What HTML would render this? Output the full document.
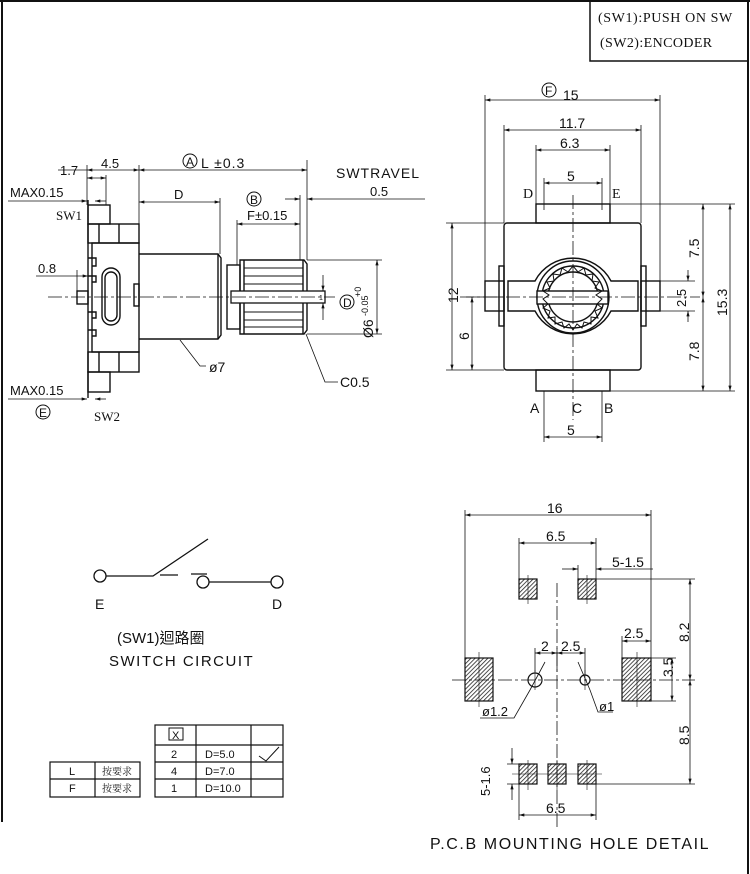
<!DOCTYPE html>
<html><head><meta charset="utf-8"><style>
html,body{margin:0;padding:0;background:#fff}
svg{display:block}
text{font-family:"Liberation Sans","Noto Sans CJK TC",sans-serif;fill:#111}
.s{font-family:"Liberation Serif","Noto Serif CJK SC",serif}
</style></head><body>
<svg width="750" height="874" viewBox="0 0 750 874" xmlns="http://www.w3.org/2000/svg">
<defs>
<marker id="a" viewBox="0 0 10 6" refX="10" refY="3" markerWidth="8" markerHeight="4" orient="auto-start-reverse"><path d="M0,0L10,3L0,6z" fill="#111"/></marker>
<pattern id="h" width="3" height="3" patternUnits="userSpaceOnUse" patternTransform="rotate(45)"><rect width="3" height="3" fill="#fff"/><line x1="0" y1="0" x2="0" y2="3" stroke="#222" stroke-width="1.6"/></pattern>
</defs>
<g fill="none" stroke="#111" stroke-width="1">
<line x1="2" y1="0" x2="2" y2="822" stroke-width="2"/>
<line x1="748" y1="0" x2="748" y2="874" stroke-width="2"/>
<line x1="0" y1="1" x2="750" y2="1" stroke-width="2"/>
<rect x="590" y="1" width="158" height="60" stroke-width="1.5"/>

<g stroke-width="1.4">
<rect x="88" y="205" width="22" height="19"/>
<rect x="88" y="224" width="51" height="19"/>
<line x1="99" y1="224" x2="99" y2="243"/><line x1="119" y1="224" x2="119" y2="243"/>
<rect x="92" y="243" width="47" height="109"/>
<line x1="88" y1="200" x2="88" y2="398"/>
<path d="M88,258h8v8h-4 M88,276h8v6h-4 M88,312h8v6h-4 M88,330h8v6h-4"/>
<rect x="88" y="352" width="51" height="20"/>
<line x1="99" y1="352" x2="99" y2="372"/><line x1="119" y1="352" x2="119" y2="372"/>
<rect x="88" y="372" width="22" height="20"/>
<rect x="102" y="268" width="18" height="57" rx="9"/>
<rect x="105" y="272" width="12" height="49" rx="6"/>
<rect x="134" y="284" width="5" height="22"/>
<rect x="77" y="291" width="11" height="13"/>
<path d="M139,254H218L221,258V335L218,339H139"/>
<line x1="218" y1="254" x2="218" y2="339"/>
<rect x="227" y="265" width="13" height="64"/>
<path d="M240,260H304L307,264V330L304,334H240Z"/>
<line x1="244" y1="260" x2="244" y2="334"/><line x1="303" y1="260" x2="303" y2="334"/>
</g>
<path d="M244,268H303M244,276H303M244,284H303M244,312H303M244,320H303M244,327H303" stroke-width="1"/>
<rect x="231" y="291" width="94" height="12" fill="#fff" stroke-width="1.3"/>
<line x1="48" y1="297" x2="335" y2="297" stroke-dasharray="14,3,3,3" stroke-width="0.8"/>

<line x1="87" y1="165" x2="87" y2="205" stroke-width="0.8"/>
<line x1="139" y1="165" x2="139" y2="224" stroke-width="0.8"/>
<line x1="307" y1="160" x2="307" y2="260" stroke-width="0.8"/>
<line x1="300" y1="195" x2="300" y2="260" stroke-width="0.8"/>
<line x1="106" y1="175" x2="106" y2="205" stroke-width="0.8"/>
<line x1="220" y1="198" x2="220" y2="254" stroke-width="0.8"/>
<line x1="237" y1="220" x2="237" y2="265" stroke-width="0.8"/>
<line x1="58" y1="170" x2="87" y2="170" stroke-width="0.8"/>
<line x1="87" y1="170" x2="139" y2="170" marker-start="url(#a)" marker-end="url(#a)" stroke-width="0.8"/>
<line x1="139" y1="170" x2="307" y2="170" marker-start="url(#a)" marker-end="url(#a)" stroke-width="0.8"/>
<line x1="87" y1="178" x2="106" y2="178" marker-start="url(#a)" marker-end="url(#a)" stroke-width="0.8"/>
<line x1="8" y1="201" x2="87" y2="201" marker-end="url(#a)" stroke-width="0.8"/>
<line x1="95" y1="201" x2="106" y2="201" marker-start="url(#a)" stroke-width="0.8"/>
<line x1="139" y1="202" x2="220" y2="202" marker-start="url(#a)" marker-end="url(#a)" stroke-width="0.8"/>
<line x1="237" y1="224" x2="300" y2="224" marker-start="url(#a)" marker-end="url(#a)" stroke-width="0.8"/>
<line x1="285" y1="199" x2="300" y2="199" marker-end="url(#a)" stroke-width="0.8"/>
<line x1="307" y1="199" x2="425" y2="199" marker-start="url(#a)" stroke-width="0.8"/>
<line x1="36" y1="276" x2="88" y2="276" marker-end="url(#a)" stroke-width="0.8"/>
<line x1="77" y1="270" x2="77" y2="291" stroke-width="0.8"/>
<line x1="8" y1="399" x2="87" y2="399" marker-end="url(#a)" stroke-width="0.8"/>
<line x1="95" y1="399" x2="106" y2="399" marker-start="url(#a)" stroke-width="0.8"/>
<line x1="307" y1="260" x2="382" y2="260" stroke-width="0.8"/>
<line x1="307" y1="334" x2="382" y2="334" stroke-width="0.8"/>
<line x1="377" y1="260" x2="377" y2="334" marker-start="url(#a)" marker-end="url(#a)" stroke-width="0.8"/>
<line x1="323" y1="275" x2="323" y2="291" marker-end="url(#a)" stroke-width="0.8"/>
<line x1="323" y1="303" x2="323" y2="320" marker-start="url(#a)" stroke-width="0.8"/>
<circle cx="190" cy="161" r="7"/><circle cx="254" cy="199" r="7"/><circle cx="347" cy="302" r="7"/><circle cx="43" cy="412" r="7"/>
<path d="M180,340L200,366H206" stroke-width="0.8"/>
<path d="M306,334L325,382H338" stroke-width="0.8"/>

<g stroke-width="1.4">
<rect x="536" y="204" width="74" height="19"/>
<rect x="536" y="370" width="74" height="21"/>
<rect x="504" y="223" width="137" height="147" rx="3"/>
<rect x="485" y="281" width="19" height="30"/>
<rect x="641" y="281" width="19" height="30"/>
<rect x="499" y="266" width="5" height="60"/><rect x="641" y="266" width="5" height="60"/>
<path d="M508,281H535A43,43 0 0 1 611,281H638V311H611A43,43 0 0 1 535,311H508Z"/>
<circle cx="573" cy="297" r="36"/>
<circle cx="573" cy="297" r="31"/>
<circle cx="573" cy="297" r="25"/>
<rect x="537" y="291" width="71" height="13" fill="#fff"/>
</g>
<polygon points="573,266 578,272 584,268 586,275 593,274 592,281 599,282 595,288 602,291 596,295 602,299 597,304 602,308 595,311 598,318 591,317 591,324 584,322 582,328 577,324 573,330 569,324 564,328 562,322 555,324 555,317 548,318 550,311 543,308 548,304 543,299 549,295 543,291 550,288 547,282 554,281 553,274 560,275 562,268 568,272" stroke-width="1"/>
<line x1="573" y1="195" x2="573" y2="420" stroke-dasharray="14,3,3,3" stroke-width="0.8"/>
<line x1="460" y1="297" x2="700" y2="297" stroke-dasharray="14,3,3,3" stroke-width="0.8"/>
<path d="M485,95V281M660,95V281M504,125V223M641,125V223M536,145V204M610,145V204M544,178V210M602,178V210" stroke-width="0.8"/>
<line x1="485" y1="100" x2="660" y2="100" marker-start="url(#a)" marker-end="url(#a)" stroke-width="0.8"/>
<line x1="504" y1="130" x2="641" y2="130" marker-start="url(#a)" marker-end="url(#a)" stroke-width="0.8"/>
<line x1="536" y1="150" x2="610" y2="150" marker-start="url(#a)" marker-end="url(#a)" stroke-width="0.8"/>
<line x1="544" y1="183" x2="602" y2="183" marker-start="url(#a)" marker-end="url(#a)" stroke-width="0.8"/>
<circle cx="549" cy="90" r="7"/>
<path d="M446,223H504M446,370H504M466,297H504M610,204H735M610,391H735M660,281H695M660,311H695" stroke-width="0.8"/>
<line x1="452" y1="223" x2="452" y2="370" marker-start="url(#a)" marker-end="url(#a)" stroke-width="0.8"/>
<line x1="472" y1="297" x2="472" y2="370" marker-start="url(#a)" marker-end="url(#a)" stroke-width="0.8"/>
<line x1="703" y1="204" x2="703" y2="297" marker-start="url(#a)" marker-end="url(#a)" stroke-width="0.8"/>
<line x1="703" y1="297" x2="703" y2="391" marker-start="url(#a)" marker-end="url(#a)" stroke-width="0.8"/>
<line x1="730" y1="204" x2="730" y2="391" marker-start="url(#a)" marker-end="url(#a)" stroke-width="0.8"/>
<line x1="688" y1="270" x2="688" y2="281" marker-end="url(#a)" stroke-width="0.8"/>
<line x1="688" y1="311" x2="688" y2="322" marker-start="url(#a)" stroke-width="0.8"/>
<path d="M544,391V442M602,391V442" stroke-width="0.8"/>
<line x1="544" y1="437" x2="602" y2="437" marker-start="url(#a)" marker-end="url(#a)" stroke-width="0.8"/>

<g stroke-width="1.2">
<rect x="519" y="579" width="18" height="20" fill="url(#h)"/>
<rect x="578" y="579" width="18" height="20" fill="url(#h)"/>
<rect x="465" y="658" width="28" height="43" fill="url(#h)"/>
<rect x="622" y="658" width="29" height="43" fill="url(#h)"/>
<rect x="519" y="764" width="18" height="20" fill="url(#h)"/>
<rect x="548" y="764" width="18" height="20" fill="url(#h)"/>
<rect x="578" y="764" width="18" height="20" fill="url(#h)"/>
<circle cx="535" cy="680" r="7" fill="#fff"/>
<circle cx="585" cy="680" r="5" fill="#fff"/>
</g>
<line x1="452" y1="680" x2="695" y2="680" stroke-dasharray="14,3,3,3" stroke-width="0.8"/>
<line x1="557" y1="583" x2="557" y2="830" stroke-dasharray="14,3,3,3" stroke-width="0.8"/>
<path d="M528,575V604M587,575V604M479,652V707M637,652V707M528,760V790M557,760V790M587,760V790M535,670V690M585,670V690M512,774H602" stroke-width="0.6"/>
<path d="M465,510V658M651,510V658M519,538V579M596,538V579M578,565V579M519,784V820M596,784V820M596,579H695M596,784H695M651,658H676M651,701H676M622,636V658M535,648V672M557,648V672M585,648V675M507,764H537M507,784H537" stroke-width="0.8"/>
<line x1="465" y1="515" x2="651" y2="515" marker-start="url(#a)" marker-end="url(#a)" stroke-width="0.8"/>
<line x1="519" y1="543" x2="596" y2="543" marker-start="url(#a)" marker-end="url(#a)" stroke-width="0.8"/>
<line x1="562" y1="569" x2="578" y2="569" marker-end="url(#a)" stroke-width="0.8"/>
<line x1="596" y1="569" x2="653" y2="569" marker-start="url(#a)" stroke-width="0.8"/>
<line x1="622" y1="641" x2="651" y2="641" marker-start="url(#a)" marker-end="url(#a)" stroke-width="0.8"/>
<line x1="535" y1="653" x2="557" y2="653" marker-start="url(#a)" marker-end="url(#a)" stroke-width="0.8"/>
<line x1="557" y1="653" x2="585" y2="653" marker-start="url(#a)" marker-end="url(#a)" stroke-width="0.8"/>
<line x1="672" y1="658" x2="672" y2="701" marker-start="url(#a)" marker-end="url(#a)" stroke-width="0.8"/>
<line x1="690" y1="579" x2="690" y2="680" marker-start="url(#a)" marker-end="url(#a)" stroke-width="0.8"/>
<line x1="690" y1="680" x2="690" y2="784" marker-start="url(#a)" marker-end="url(#a)" stroke-width="0.8"/>
<line x1="512" y1="748" x2="512" y2="764" marker-end="url(#a)" stroke-width="0.8"/>
<line x1="512" y1="784" x2="512" y2="800" marker-start="url(#a)" stroke-width="0.8"/>
<line x1="519" y1="815" x2="596" y2="815" marker-start="url(#a)" marker-end="url(#a)" stroke-width="0.8"/>
<path d="M545,662L530,690L514,718H480" stroke-width="0.8"/>
<path d="M578,662L590,690L598,712H613" stroke-width="0.8"/>

<g stroke-width="1.3">
<circle cx="100" cy="576" r="6"/><circle cx="203" cy="582" r="6"/><circle cx="277" cy="582" r="6"/>
<path d="M106,576H153L208,539M160,575H178M191,574H207M209,582H271"/>
</g>

<g stroke-width="1.2">
<rect x="155" y="725" width="128" height="72"/>
<path d="M155,745H283M155,762H283M155,779H283M196,725V797M251,725V797"/>
<rect x="50" y="762" width="90" height="35"/>
<path d="M50,779H140M95,762V797"/>
<rect x="169" y="728" width="14" height="12" stroke-width="1"/>
<path d="M259,756L266,761L279,747" stroke-width="1"/>
</g>
</g>

<g font-size="13">
<text x="598" y="22" class="s" font-size="14" letter-spacing="0.6">(SW1):PUSH ON SW</text>
<text x="600" y="47" class="s" font-size="14" letter-spacing="0.4">(SW2):ENCODER</text>
<text x="60" y="175" font-size="13">1.7</text>
<text x="101" y="168" font-size="13">4.5</text>
<text x="186" y="166" font-size="12">A</text>
<text x="201" y="168" font-size="14" letter-spacing="1">L ±0.3</text>
<text x="10" y="197" font-size="13">MAX0.15</text>
<text x="56" y="220" class="s" font-size="13">SW1</text>
<text x="174" y="199" font-size="13">D</text>
<text x="250" y="204" font-size="12">B</text>
<text x="247" y="220" font-size="13">F±0.15</text>
<text x="336" y="178" font-size="14" letter-spacing="1">SWTRAVEL</text>
<text x="370" y="196" font-size="13">0.5</text>
<text x="38" y="273" font-size="13">0.8</text>
<text x="343" y="307" font-size="12">D</text>
<text x="319" y="300" font-size="7">1</text>
<text transform="translate(373,338) rotate(-90)" font-size="14">Ø6</text>
<text transform="translate(368,316) rotate(-90)" font-size="9">-0.05</text>
<text transform="translate(361,297) rotate(-90)" font-size="9">+0</text>
<text x="209" y="372" font-size="14">ø7</text>
<text x="340" y="387" font-size="14">C0.5</text>
<text x="10" y="395" font-size="13">MAX0.15</text>
<text x="39" y="417" font-size="12">E</text>
<text x="94" y="421" class="s" font-size="13">SW2</text>

<text x="545" y="95" font-size="12">F</text>
<text x="563" y="100" font-size="14">15</text>
<text x="559" y="128" font-size="14">11.7</text>
<text x="560" y="148" font-size="14">6.3</text>
<text x="567" y="181" font-size="14">5</text>
<text x="523" y="198" font-size="14" class="s">D</text>
<text x="612" y="198" font-size="14" class="s">E</text>
<text transform="translate(458,303) rotate(-90)" font-size="14">12</text>
<text transform="translate(469,340) rotate(-90)" font-size="14">6</text>
<text transform="translate(699,258) rotate(-90)" font-size="14">7.5</text>
<text transform="translate(699,361) rotate(-90)" font-size="14">7.8</text>
<text transform="translate(727,316) rotate(-90)" font-size="14">15.3</text>
<text transform="translate(686,307) rotate(-90)" font-size="13">2.5</text>
<text x="530" y="413" font-size="14">A</text>
<text x="572" y="413" font-size="14">C</text>
<text x="604" y="413" font-size="14">B</text>
<text x="567" y="435" font-size="14">5</text>

<text x="547" y="513" font-size="14">16</text>
<text x="546" y="541" font-size="14">6.5</text>
<text x="612" y="567" font-size="14">5-1.5</text>
<text x="624" y="638" font-size="14">2.5</text>
<text x="541" y="651" font-size="14">2</text>
<text x="561" y="651" font-size="14">2.5</text>
<text x="482" y="716" font-size="13">ø1.2</text>
<text x="599" y="711" font-size="13">ø1</text>
<text transform="translate(673,677) rotate(-90)" font-size="14">3.5</text>
<text transform="translate(689,642) rotate(-90)" font-size="14">8.2</text>
<text transform="translate(689,745) rotate(-90)" font-size="14">8.5</text>
<text transform="translate(490,796) rotate(-90)" font-size="13">5-1.6</text>
<text x="546" y="813" font-size="14">6.5</text>
<text x="430" y="849" font-size="16" letter-spacing="1.6">P.C.B MOUNTING HOLE DETAIL</text>

<text x="95" y="609" font-size="14">E</text>
<text x="272" y="609" font-size="14">D</text>
<text x="117" y="643" font-size="15">(SW1)迴路圈</text>
<text x="109" y="666" font-size="15" letter-spacing="1.5">SWITCH CIRCUIT</text>

<text x="172" y="739" font-size="11">X</text>
<text x="171" y="758" font-size="11">2</text>
<text x="205" y="758" font-size="11">D=5.0</text>
<text x="171" y="775" font-size="11">4</text>
<text x="205" y="775" font-size="11">D=7.0</text>
<text x="171" y="792" font-size="11">1</text>
<text x="205" y="792" font-size="11">D=10.0</text>
<text x="69" y="775" font-size="11">L</text>
<text x="69" y="792" font-size="11">F</text>
<text x="102" y="775" font-size="10" class="s">按要求</text>
<text x="102" y="792" font-size="10" class="s">按要求</text>
</g>
</svg>
</body></html>
